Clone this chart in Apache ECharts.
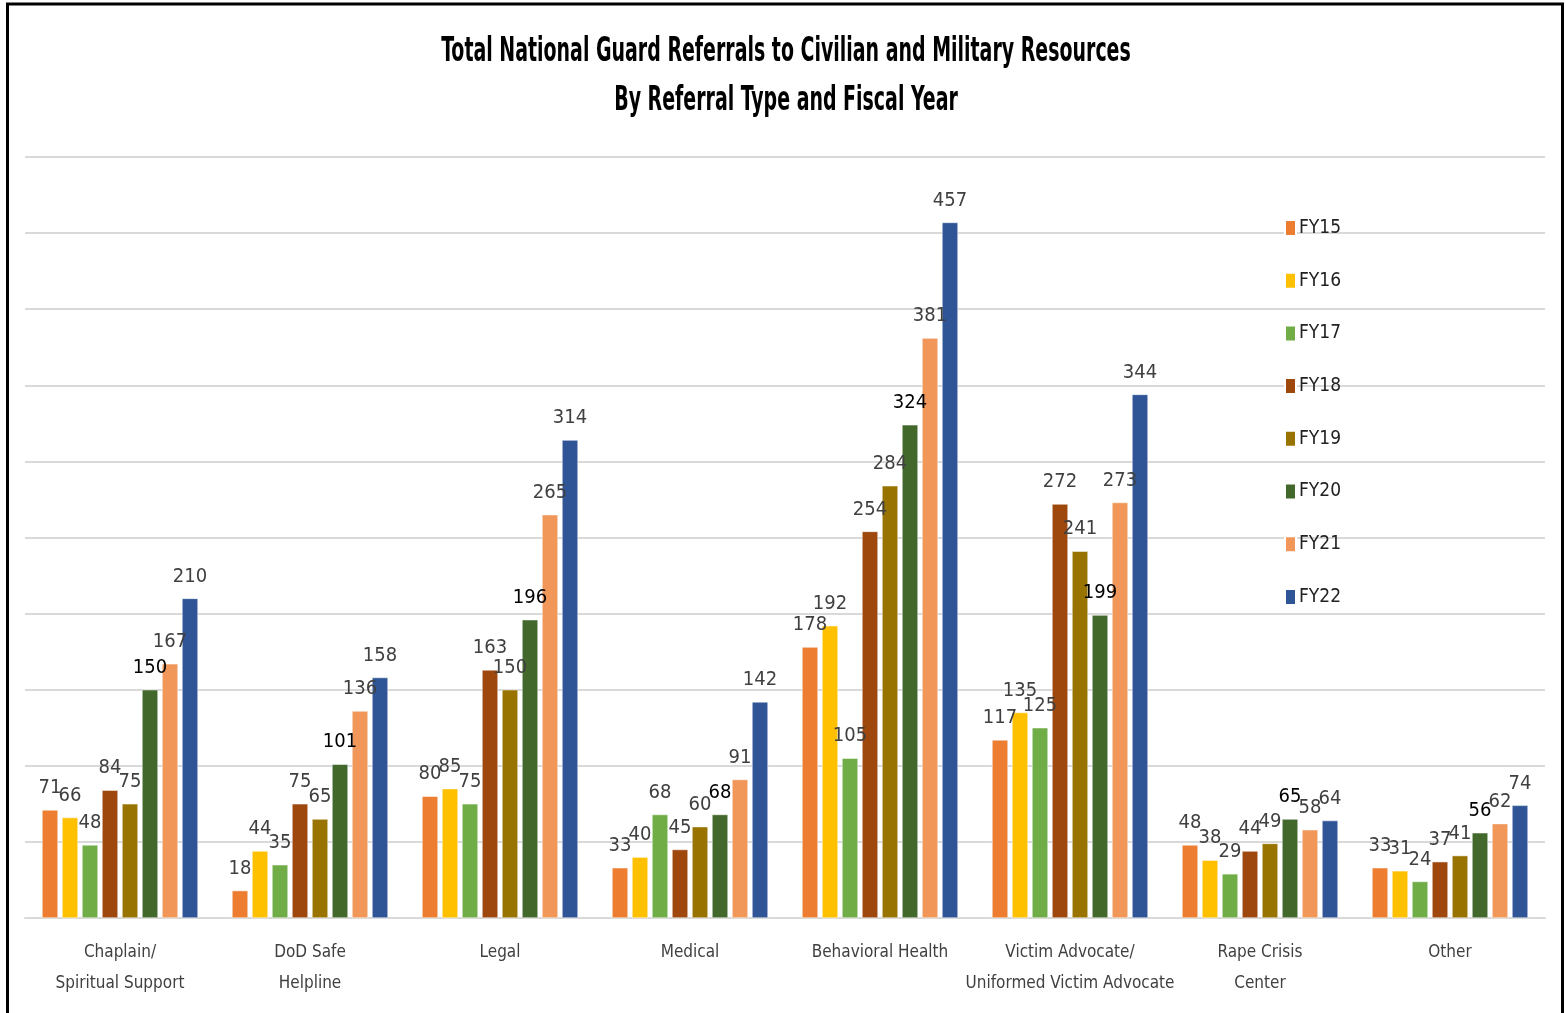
<!DOCTYPE html>
<html>
<head>
<meta charset="utf-8">
<script src="https://cdn.jsdelivr.net/npm/echarts@6/dist/echarts.min.js"></script>
<style>
html,body{margin:0;padding:0;background:#fff;}
#main{width:1566px;height:1013px;}
</style>
</head>
<body>
<div id="main"></div>
<script>
const categories = ["Chaplain/\nSpiritual Support", "DoD Safe\nHelpline", "Legal", "Medical", "Behavioral Health", "Victim Advocate/\nUniformed Victim Advocate", "Rape Crisis\nCenter", "Other"];
const seriesNames = ["FY15", "FY16", "FY17", "FY18", "FY19", "FY20", "FY21", "FY22"];
const FY15 = [71, 18, 80, 33, 178, 117, 48, 33];
const FY16 = [66, 44, 85, 40, 192, 135, 38, 31];
const FY17 = [48, 35, 75, 68, 105, 125, 29, 24];
const FY18 = [84, 75, 163, 45, 254, 272, 44, 37];
const FY19 = [75, 65, 150, 60, 284, 241, 49, 41];
const FY20 = [150, 101, 196, 68, 324, 199, 65, 56];
const FY21 = [167, 136, 265, 91, 381, 273, 58, 62];
const FY22 = [210, 158, 314, 142, 457, 344, 64, 74];
const seriesValues = [FY15, FY16, FY17, FY18, FY19, FY20, FY21, FY22];
const titleLines = ["Total National Guard Referrals to Civilian and Military Resources", "By Referral Type and Fiscal Year"];

const colors = ["#ED7D31", "#FFC000", "#70AD47", "#9E480E", "#997300", "#43682B", "#F1975A", "#2F5597"];
const labelColors = ["#404040", "#404040", "#404040", "#404040", "#404040", "#000000", "#404040", "#404040"];
const FONT = "'Liberation Sans Narrow', 'DejaVu Sans Condensed', 'Noto Sans', sans-serif";
const TITLE_FONT = "bold 34px 'Liberation Sans Narrow', 'DejaVu Sans Condensed', sans-serif";

const chart = echarts.init(document.getElementById('main'), null, {renderer: 'canvas'});
const option = {
  backgroundColor: '#fff',
  animation: false,
  color: colors,
  textStyle: {fontFamily: FONT},
  graphic: [
    {type: 'rect', shape: {x: 7.5, y: 4, width: 1555, height: 1030}, style: {fill: 'none', stroke: '#000', lineWidth: 3}, z: 100},
    {type: 'text', x: 786, y: 52, scaleX: 0.62, z: 100,
      style: {text: titleLines[0], fill: '#000', font: TITLE_FONT, align: 'center', verticalAlign: 'middle'}},
    {type: 'text', x: 786, y: 101, scaleX: 0.62, z: 100,
      style: {text: titleLines[1], fill: '#000', font: TITLE_FONT, align: 'center', verticalAlign: 'middle'}}
  ],
  legend: {
    orient: 'vertical', left: 1279, top: 213.5,
    itemWidth: 11, itemHeight: 16, itemGap: 33.7,
    icon: 'rect',
    textStyle: {fontFamily: FONT, fontSize: 19, color: '#222', padding: [0,0,0,-2]},
    data: seriesNames
  },
  grid: {left: 25, right: 21, top: 157, bottom: 95, containLabel: false},
  xAxis: {
    type: 'category', data: categories,
    axisLine: {lineStyle: {color: '#D9D9D9', width: 2}},
    axisTick: {show: false},
    axisLabel: {fontFamily: FONT, fontSize: 17, color: '#404040', lineHeight: 31, margin: 19, interval: 0}
  },
  yAxis: {
    type: 'value', min: 0, max: 500, interval: 50,
    axisLabel: {show: false}, axisLine: {show: false}, axisTick: {show: false},
    splitLine: {lineStyle: {color: '#D9D9D9', width: 2}}
  },
  series: seriesNames.map((n, i) => ({
    name: n, type: 'bar', data: seriesValues[i],
    barWidth: 16, barGap: '25%',
    itemStyle: {color: colors[i], borderColor: '#fff', borderWidth: 0.5},
    label: {show: true, position: 'top', distance: 12, fontFamily: FONT, fontSize: 20, color: labelColors[i]}
  }))
};
chart.setOption(option);
</script>
</body>
</html>
